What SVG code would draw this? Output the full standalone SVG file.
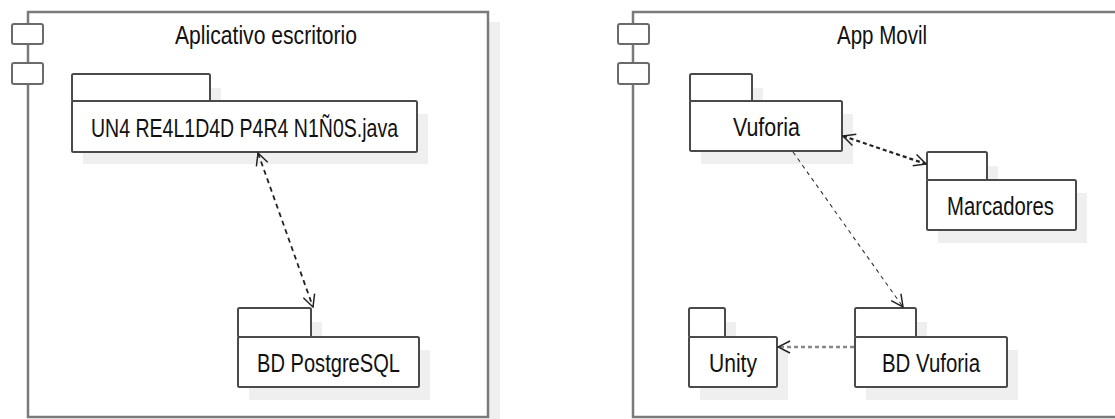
<svg xmlns="http://www.w3.org/2000/svg" width="1115" height="419" viewBox="0 0 1115 419">
<defs>
<style>
.comp{fill:#fff;stroke:#7a7a7a;stroke-width:2.5}
.csh{fill:#efefef}
.ico{fill:#fff;stroke:#6a6a6a;stroke-width:2}
.pk{fill:#fff;stroke:#4a4a4a;stroke-width:2}
.sh{fill:#efefef}
.t{font-family:"Liberation Sans",Arial,sans-serif;font-size:25px;fill:#111;text-anchor:middle}
.c1{fill:none;stroke:#222;stroke-width:1.8;stroke-dasharray:5 4}
.c2{fill:none;stroke:#222;stroke-width:2.2;stroke-dasharray:4 3}
.c3{fill:none;stroke:#333;stroke-width:1.1;stroke-dasharray:4 4}
.c4{fill:none;stroke:#888;stroke-width:2.6;stroke-dasharray:4 3}
</style>
<marker id="oa" viewBox="0 0 14 14" refX="13" refY="7" markerWidth="14" markerHeight="14" markerUnits="userSpaceOnUse" orient="auto-start-reverse">
<path d="M1,1 L13,7 L1,13" fill="none" stroke="#222" stroke-width="1.5"/>
</marker>
</defs>

<g id="comp-escritorio">
<rect class="csh" x="489" y="22" width="11" height="400"/>
<rect class="comp" x="28" y="12" width="460" height="405"/>
<rect class="ico" x="12" y="24" width="31" height="20" rx="2"/>
<rect class="ico" x="12" y="63" width="31" height="21" rx="2"/>
<text class="t" x="266" y="44" textLength="182" lengthAdjust="spacingAndGlyphs">Aplicativo escritorio</text>
</g>

<g id="comp-movil">
<rect class="comp" x="633" y="12" width="520" height="405"/>
<rect class="ico" x="618" y="24" width="31" height="20" rx="2"/>
<rect class="ico" x="618" y="63" width="31" height="21" rx="2"/>
<text class="t" x="882" y="44" textLength="90" lengthAdjust="spacingAndGlyphs">App Movil</text>
</g>

<g id="pkg-java">
<rect class="sh" x="83" y="88" width="138" height="30"/>
<rect class="sh" x="83" y="114" width="345" height="50"/>
<rect class="pk" x="72" y="74" width="138" height="27" rx="1.5"/>
<rect class="pk" x="72" y="101" width="345" height="51" rx="1.5"/>
<text class="t" x="244.5" y="137" textLength="307" lengthAdjust="spacingAndGlyphs">UN4 RE4L1D4D P4R4 N1Ñ0S.java</text>
</g>

<g id="pkg-postgres">
<rect class="sh" x="249" y="322" width="73" height="30"/>
<rect class="sh" x="249" y="350" width="181" height="50"/>
<rect class="pk" x="238" y="308" width="73" height="29" rx="1.5"/>
<rect class="pk" x="238" y="337" width="181" height="50" rx="1.5"/>
<text class="t" x="328.5" y="372" textLength="143" lengthAdjust="spacingAndGlyphs">BD PostgreSQL</text>
</g>

<g id="pkg-vuforia">
<rect class="sh" x="701" y="88" width="62" height="30"/>
<rect class="sh" x="701" y="114" width="152" height="50"/>
<rect class="pk" x="690" y="74" width="62" height="27" rx="1.5"/>
<rect class="pk" x="690" y="101" width="152" height="50" rx="1.5"/>
<text class="t" x="766.5" y="136" textLength="67" lengthAdjust="spacingAndGlyphs">Vuforia</text>
</g>

<g id="pkg-marcadores">
<rect class="sh" x="938" y="166" width="60" height="30"/>
<rect class="sh" x="938" y="193" width="149" height="50"/>
<rect class="pk" x="927" y="152" width="60" height="28" rx="1.5"/>
<rect class="pk" x="927" y="180" width="149" height="50" rx="1.5"/>
<text class="t" x="1000.5" y="215" textLength="107" lengthAdjust="spacingAndGlyphs">Marcadores</text>
</g>

<g id="pkg-unity">
<rect class="sh" x="700" y="322" width="36" height="30"/>
<rect class="sh" x="700" y="350" width="88" height="50"/>
<rect class="pk" x="689" y="308" width="36" height="29" rx="1.5"/>
<rect class="pk" x="689" y="337" width="88" height="50" rx="1.5"/>
<text class="t" x="733" y="372" textLength="48" lengthAdjust="spacingAndGlyphs">Unity</text>
</g>

<g id="pkg-bdvuforia">
<rect class="sh" x="866" y="322" width="61" height="30"/>
<rect class="sh" x="866" y="350" width="152" height="50"/>
<rect class="pk" x="855" y="308" width="61" height="29" rx="1.5"/>
<rect class="pk" x="855" y="337" width="152" height="50" rx="1.5"/>
<text class="t" x="931" y="372" textLength="98" lengthAdjust="spacingAndGlyphs">BD Vuforia</text>
</g>

<g id="connectors">
<line class="c1" x1="258" y1="153" x2="313" y2="307" marker-start="url(#oa)" marker-end="url(#oa)"/>
<line class="c2" x1="843" y1="136" x2="926" y2="164" marker-start="url(#oa)" marker-end="url(#oa)"/>
<line class="c3" x1="793" y1="152" x2="903" y2="307" marker-end="url(#oa)"/>
<line class="c4" x1="854" y1="347" x2="778" y2="347" marker-end="url(#oa)"/>
</g>
</svg>
